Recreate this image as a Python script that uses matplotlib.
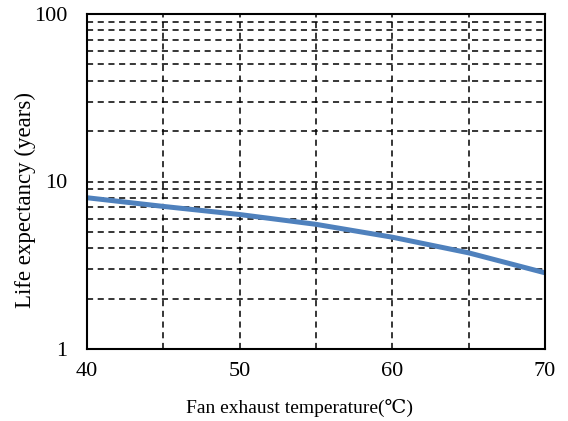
import matplotlib
matplotlib.use("Agg")
import matplotlib.pyplot as plt
from matplotlib.ticker import FixedLocator, NullFormatter

temp = [40, 45, 50, 55, 60, 65, 70]
life = [8.0, 7.1, 6.35, 5.55, 4.65, 3.75, 2.85]

x_major = [40, 50, 60, 70]
x_minor = [45, 55, 65]
y_major = [1, 10, 100]
y_labels = ["1", "10", "100"]

plt.rcParams['font.family'] = ['Liberation Serif', 'DejaVu Serif']

fig = plt.figure(figsize=(5.68, 4.21), dpi=100)
ax = fig.add_axes([87/568, 1 - 349/421, (545-87)/568, (349-14)/421])

ax.plot(temp, life, color="#4F81BD", linewidth=3.6, solid_capstyle="butt", zorder=3)

ax.set_yscale("log")
ax.set_xlim(40, 70)
ax.set_ylim(1, 100)

ax.xaxis.set_major_locator(FixedLocator(x_major))
ax.xaxis.set_minor_locator(FixedLocator(x_minor))
ax.set_xticklabels([str(v) for v in x_major])
ax.set_yticks(y_major)
ax.set_yticklabels(y_labels)
ax.yaxis.set_minor_formatter(NullFormatter())

ax.grid(True, which="both", color="black", linestyle=(0, (4, 3)), linewidth=1.1)
ax.tick_params(which="both", length=0, labelsize=16)
ax.tick_params(axis="x", pad=9)
ax.tick_params(axis="y", pad=14)

for s in ax.spines.values():
    s.set_linewidth(1.5)
    s.set_zorder(4)

ax.set_xlabel("Fan exhaust temperature(\u2103)", fontsize=14)
ax.xaxis.set_label_coords(0.463, -0.148)
ax.set_ylabel("Life expectancy (years)", fontsize=16.5)
ax.yaxis.set_label_coords(-0.112, 0.445)

fig.savefig("out.png", dpi=100)
